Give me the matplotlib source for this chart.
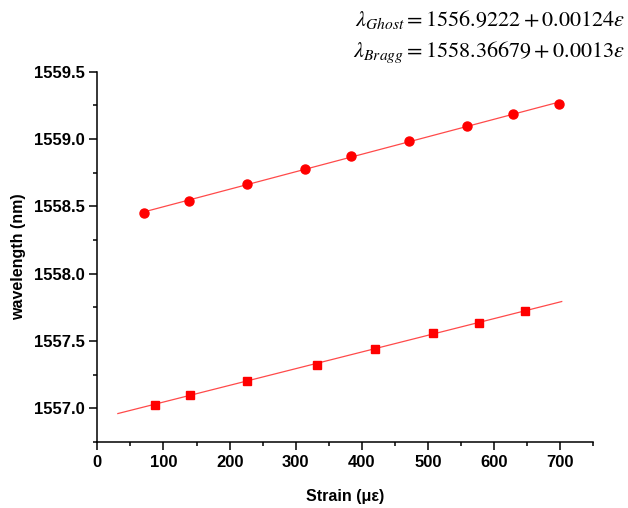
import numpy as np
import matplotlib
matplotlib.use("Agg")
import matplotlib.pyplot as plt
from matplotlib.ticker import MultipleLocator

plt.rcParams["font.family"] = ["Liberation Sans", "DejaVu Sans"]
plt.rcParams["mathtext.fontset"] = "stix"

# Bragg peak (circles)
bragg_strain = [70, 139, 227, 314, 384, 471, 559, 629, 698]
bragg_wl = [1558.448, 1558.539, 1558.663, 1558.779, 1558.874,
            1558.987, 1559.099, 1559.186, 1559.258]
bragg_coef = (1558.36679, 0.0013)
bragg_fit_range = [70, 698]

# Ghost peak (squares)
ghost_strain = [87, 140, 227, 332, 419, 507, 577, 647]
ghost_wl = [1557.027, 1557.097, 1557.205, 1557.319, 1557.438,
            1557.557, 1557.634, 1557.721]
ghost_coef = (1556.9222, 0.00124)
ghost_fit_range = [31, 702]

RED = "#ff0000"
FIT = "#ff4a4a"

fig = plt.figure(figsize=(6.28, 5.08), dpi=100)
ax = fig.add_axes([0.155, 0.1293, 0.945 - 0.155, 0.8589 - 0.1293])

for xr, (b0, b1) in [(bragg_fit_range, bragg_coef), (ghost_fit_range, ghost_coef)]:
    xs = np.array(xr, dtype=float)
    ax.plot(xs, b0 + b1 * xs, color=FIT, lw=0.9, zorder=2)

ax.plot(bragg_strain, bragg_wl, "o", color=RED, ms=6.5, mec=RED, zorder=3)
ax.plot(ghost_strain, ghost_wl, "s", color=RED, ms=5.5, mec=RED, zorder=3)

ax.set_xlim(0, 750)
ax.set_ylim(1556.747, 1559.5)
ax.xaxis.set_major_locator(MultipleLocator(100))
ax.xaxis.set_minor_locator(MultipleLocator(50))
ax.yaxis.set_major_locator(MultipleLocator(0.5))
ax.yaxis.set_minor_locator(MultipleLocator(0.25))
ax.yaxis.set_major_formatter(matplotlib.ticker.FormatStrFormatter("%.1f"))

for side in ["top", "right"]:
    ax.spines[side].set_visible(False)
for side in ["left", "bottom"]:
    ax.spines[side].set_linewidth(1.1)

ax.tick_params(which="major", direction="out", length=6, width=1.1,
               labelsize=12, pad=3)
ax.tick_params(which="minor", direction="out", length=3, width=1.1)
for lbl in ax.get_xticklabels() + ax.get_yticklabels():
    lbl.set_fontweight("bold")

ax.set_xlabel("Strain (\u03bc\u03b5)", fontsize=11.5, fontweight="bold", labelpad=14)
ax.set_ylabel("wavelength (nm)", fontsize=11.5, fontweight="bold", labelpad=6)

fig.text(0.995, 0.962, r"$\lambda_{Ghost}=1556.9222+0.00124\varepsilon$",
         fontsize=16, ha="right", va="center")
fig.text(0.995, 0.898, r"$\lambda_{Bragg}=1558.36679+0.0013\varepsilon$",
         fontsize=16, ha="right", va="center")

fig.savefig("out.png", dpi=100)
